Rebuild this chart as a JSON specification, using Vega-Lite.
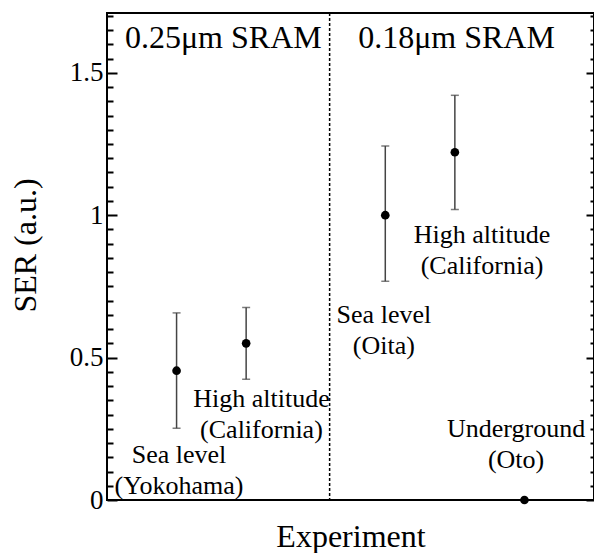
{
  "$schema": "https://vega.github.io/schema/vega-lite/v6.json",
  "width": 487,
  "height": 487,
  "autosize": "none",
  "padding": {"left": 107, "top": 13, "right": 0, "bottom": 53},
  "background": "white",
  "config": {
    "font": "Liberation Serif",
    "view": {"stroke": "black", "strokeWidth": 2},
    "axis": {"grid": false}
  },
  "datasets": {
    "points": [
      {"site": "Yokohama", "x": 1, "ser": 0.454, "lo": 0.252, "hi": 0.657},
      {"site": "California (0.25um)", "x": 2, "ser": 0.55, "lo": 0.424, "hi": 0.676},
      {"site": "Oita", "x": 4, "ser": 1.0, "lo": 0.768, "hi": 1.243},
      {"site": "California (0.18um)", "x": 5, "ser": 1.221, "lo": 1.02, "hi": 1.421},
      {"site": "Oto", "x": 6, "ser": 0}
    ],
    "divider": [{"x": 3.2}],
    "labels": [
      {"text": "Sea level\n(Yokohama)", "x": 1.035, "y": 0.131},
      {"text": "High altitude\n(California)", "x": 2.22, "y": 0.328},
      {"text": "Sea level\n(Oita)", "x": 3.98, "y": 0.6225},
      {"text": "High altitude\n(California)", "x": 5.39, "y": 0.901},
      {"text": "Underground\n(Oto)", "x": 5.88, "y": 0.222}
    ],
    "headers": [
      {"text": "0.25μm SRAM", "x": 1.672, "y": 1.586},
      {"text": "0.18μm SRAM", "x": 5.024, "y": 1.586}
    ]
  },
  "layer": [
    {
      "data": {"name": "divider"},
      "mark": {"type": "rule", "strokeDash": [3, 2], "strokeWidth": 1.5, "color": "black"},
      "encoding": {
        "x": {
          "field": "x", "type": "quantitative",
          "scale": {"domain": [0, 7], "nice": false},
          "axis": {
            "orient": "bottom",
            "title": "Experiment",
            "domain": false,
            "ticks": false,
            "labels": false,
            "titleFontSize": 32,
            "titleFontWeight": "normal",
            "titleColor": "black",
            "titleFont": "Liberation Serif",
            "titlePadding": 21
          }
        }
      }
    },
    {
      "data": {"name": "points"},
      "mark": {"type": "rule", "color": "#444", "strokeWidth": 1.5},
      "encoding": {
        "x": {"field": "x", "type": "quantitative"},
        "y": {
          "field": "lo", "type": "quantitative",
          "axis": {
            "orient": "right",
            "title": null,
            "domain": false,
            "labels": false,
            "values": [0, 0.5, 1, 1.5],
            "tickColor": "black",
            "tickWidth": 2,
            "tickSize": -8
          }
        },
        "y2": {"field": "hi"}
      }
    },
    {
      "data": {"name": "points"},
      "mark": {"type": "tick", "orient": "horizontal", "color": "#444", "size": 8, "thickness": 1.5},
      "encoding": {
        "x": {"field": "x", "type": "quantitative"},
        "y": {
          "field": "lo", "type": "quantitative",
          "axis": {
            "orient": "right",
            "title": null,
            "domain": false,
            "labels": false,
            "values": [0.05,0.1,0.15,0.2,0.25,0.3,0.35,0.4,0.45,0.55,0.6,0.65,0.7,0.75,0.8,0.85,0.9,0.95,1.05,1.1,1.15,1.2,1.25,1.3,1.35,1.4,1.45,1.55,1.6,1.65,1.7],
            "tickColor": "black",
            "tickWidth": 2,
            "tickSize": -4
          }
        }
      }
    },
    {
      "data": {"name": "points"},
      "mark": {"type": "tick", "orient": "horizontal", "color": "#444", "size": 8, "thickness": 1.5},
      "encoding": {
        "x": {"field": "x", "type": "quantitative"},
        "y": {
          "field": "hi", "type": "quantitative",
          "axis": {
            "orient": "left",
            "title": null,
            "domain": false,
            "labels": false,
            "values": [0.05,0.1,0.15,0.2,0.25,0.3,0.35,0.4,0.45,0.55,0.6,0.65,0.7,0.75,0.8,0.85,0.9,0.95,1.05,1.1,1.15,1.2,1.25,1.3,1.35,1.4,1.45,1.55,1.6,1.65,1.7],
            "tickColor": "black",
            "tickWidth": 2,
            "tickSize": -6
          }
        }
      }
    },
    {
      "data": {"name": "points"},
      "mark": {"type": "point", "filled": true, "color": "black", "size": 75, "opacity": 1},
      "encoding": {
        "x": {"field": "x", "type": "quantitative"},
        "y": {
          "field": "ser", "type": "quantitative",
          "scale": {"domain": [0, 1.71], "nice": false, "zero": false},
          "axis": {
            "orient": "left",
            "title": "SER (a.u.)",
            "domain": false,
            "values": [0, 0.5, 1, 1.5],
            "labelExpr": "datum.value + ''",
            "labelOverlap": false,
            "labelFontSize": 27,
            "labelFont": "Liberation Serif",
            "labelColor": "black",
            "labelPadding": 14,
            "labelBaseline": "middle",
            "tickColor": "black",
            "tickWidth": 2,
            "tickSize": -10,
            "titleFontSize": 32,
            "titleFontWeight": "normal",
            "titleColor": "black",
            "titleFont": "Liberation Serif",
            "titleBaseline": "alphabetic",
            "titleAlign": "center",
            "titleX": -72,
            "titleY": 232
          }
        }
      }
    },
    {
      "data": {"name": "labels"},
      "mark": {"type": "text", "font": "Liberation Serif", "fontSize": 26, "color": "black", "align": "center", "baseline": "alphabetic", "lineBreak": "\n", "lineHeight": 31},
      "encoding": {
        "x": {"field": "x", "type": "quantitative"},
        "y": {"field": "y", "type": "quantitative", "axis": null},
        "text": {"field": "text"}
      }
    },
    {
      "data": {"name": "headers"},
      "mark": {"type": "text", "font": "Liberation Serif", "fontSize": 32, "color": "black", "align": "center", "baseline": "alphabetic"},
      "encoding": {
        "x": {"field": "x", "type": "quantitative"},
        "y": {"field": "y", "type": "quantitative", "axis": null},
        "text": {"field": "text"}
      }
    }
  ],
  "resolve": {"axis": {"y": "independent"}}
}
